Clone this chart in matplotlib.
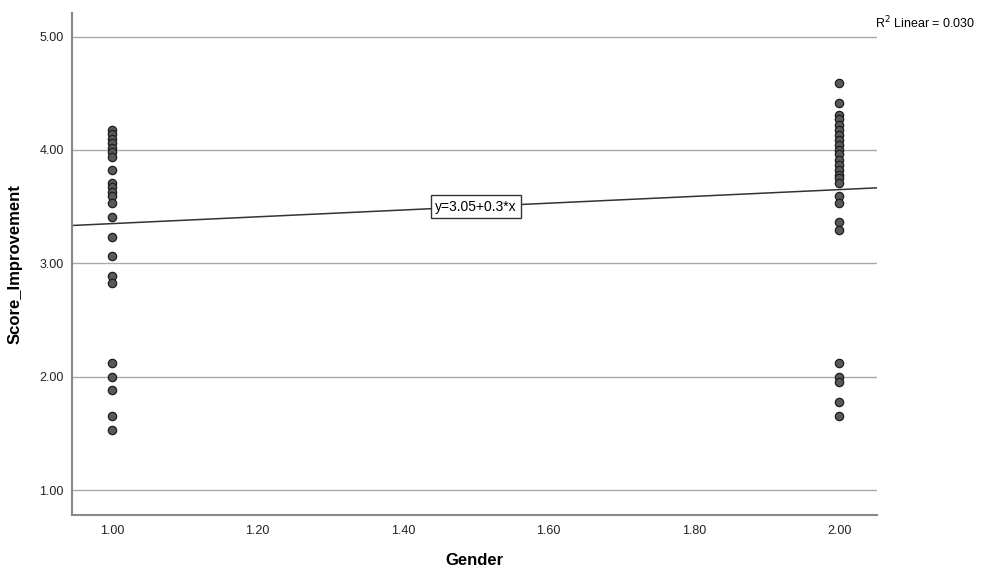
import numpy as np
import matplotlib
matplotlib.use("Agg")
import matplotlib.pyplot as plt

plt.rcParams['font.family'] = ['Liberation Sans', 'DejaVu Sans']

# Score_Improvement values, by gender
group1_scores = [4.18, 4.14, 4.10, 4.06, 4.02, 3.98, 3.94, 3.82, 3.71, 3.67, 3.63,
                 3.59, 3.53, 3.41, 3.23, 3.06, 2.89, 2.83,
                 2.12, 2.00, 1.88, 1.65, 1.53]
group2_scores = [4.59, 4.41, 4.31, 4.27, 4.22, 4.18, 4.13, 4.09, 4.04, 4.00, 3.96,
                 3.91, 3.87, 3.82, 3.78, 3.75, 3.71, 3.59, 3.53, 3.36, 3.29,
                 2.12, 2.00, 1.95, 1.78, 1.65]
genders = [1.0, 2.0]

# fit line as reported
intercept = 3.05
slope = 0.3
r_squared = 0.030

x_ticks = [1.0, 1.2, 1.4, 1.6, 1.8, 2.0]
y_ticks = [1.0, 2.0, 3.0, 4.0, 5.0]

fig = plt.figure(figsize=(9.87, 5.72), dpi=100)
ax = fig.add_axes([0.073, 0.0997, 0.8156, 0.878])

ax.set_xlim(0.945, 2.052)
ax.set_ylim(0.78, 5.21)

for g, scores in zip(genders, [group1_scores, group2_scores]):
    ax.scatter([g] * len(scores), scores, s=36, color='#595959',
               edgecolors='#1e1e1e', linewidths=0.9, zorder=3)

# regression line
xl = np.array(ax.get_xlim())
ax.plot(xl, intercept + slope * xl, color='#333333', linewidth=1.1, zorder=2)
xm = 1.5
ax.text(xm, intercept + slope * xm, f'y={intercept:.2f}+{slope}*x', fontsize=10,
        ha='center', va='center', zorder=4,
        bbox=dict(boxstyle='square,pad=0.3', facecolor='white',
                  edgecolor='#333333', linewidth=1))

ax.set_xticks(x_ticks)
ax.set_xticklabels([f'{v:.2f}' for v in x_ticks])
ax.set_yticks(y_ticks)
ax.set_yticklabels([f'{v:.2f}' for v in y_ticks])
ax.tick_params(length=0, labelsize=9, colors='#222222', pad=7)
ax.tick_params(axis='y', pad=6)

ax.yaxis.grid(True, color='#aaaaaa', linewidth=1)
ax.set_axisbelow(True)
for side in ['top', 'right']:
    ax.spines[side].set_visible(False)
for side in ['left', 'bottom']:
    ax.spines[side].set_color('#888888')
    ax.spines[side].set_linewidth(1.5)

ax.set_xlabel('Gender', fontsize=12, fontweight='bold', labelpad=12)
ax.set_ylabel('Score_Improvement', fontsize=12, fontweight='bold', labelpad=12)

fig.text(0.988, 0.96, f'R$^2$ Linear = {r_squared:.3f}', fontsize=9, ha='right', va='center')

fig.savefig('out.png', dpi=100)
